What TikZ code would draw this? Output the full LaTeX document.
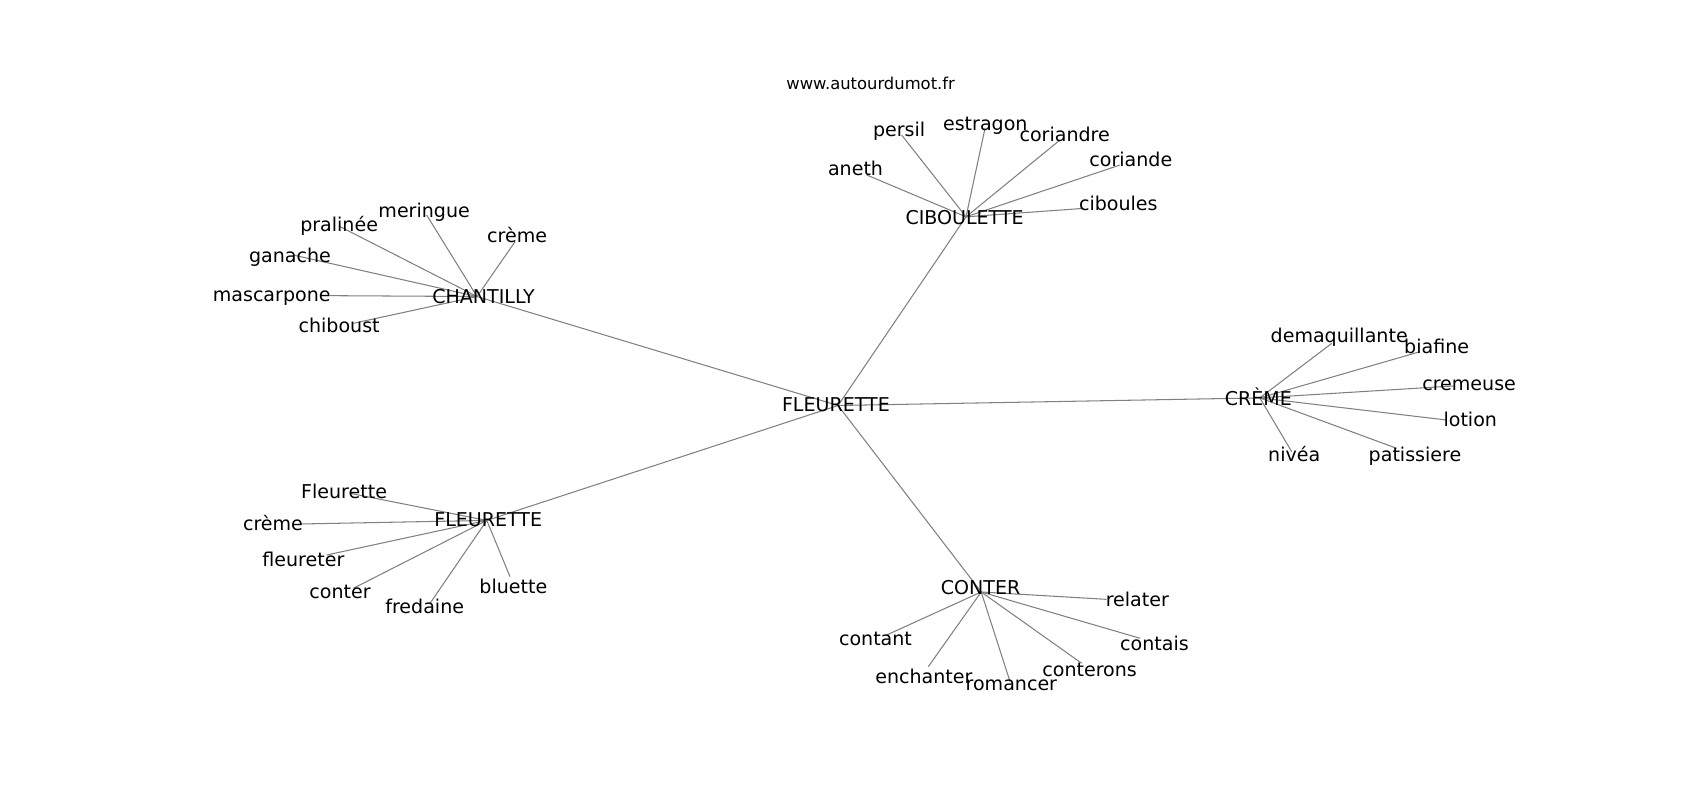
\documentclass[tikz,border=0pt]{standalone}
\usepackage{fontspec}
\setmainfont{DejaVu Sans}
\definecolor{edgegray}{RGB}{128,128,128}
\begin{document}
\begin{tikzpicture}[x=0.02cm,y=-0.02cm,
  lbl/.style={font=\fontsize{10}{12}\selectfont, inner sep=0pt, text height=0.73em, text depth=0pt, anchor=center},
  url/.style={font=\fontsize{8.6}{10}\selectfont, inner sep=0pt, text height=0.73em, text depth=0pt, anchor=center},
  edg/.style={draw=edgegray, line width=0.55pt}]
\useasboundingbox (0,0) rectangle (1568,738);
% graph node positions
\coordinate (F) at (773,374);
\coordinate (CH) at (440,273.5);
\coordinate (CI) at (891,200);
\coordinate (CR) at (1162,367);
\coordinate (FL) at (449,480);
\coordinate (CO) at (905,546);
\coordinate (ch1) at (393.5,198.3);
\coordinate (ch2) at (313.6,209);
\coordinate (ch3) at (475,223);
\coordinate (ch4) at (270.5,235.2);
\coordinate (ch5) at (304.4,272.7);
\coordinate (ch6) at (325.9,298.2);
\coordinate (ci1) at (831.6,124.5);
\coordinate (ci2) at (908.5,118.4);
\coordinate (ci3) at (977.7,129.1);
\coordinate (ci4) at (799.4,161.4);
\coordinate (ci5) at (1033,152.2);
\coordinate (ci6) at (999.2,192.2);
\coordinate (cr1) at (1228.3,316.7);
\coordinate (cr2) at (1309.7,324.4);
\coordinate (cr3) at (1340.5,356);
\coordinate (cr4) at (1334.3,387.4);
\coordinate (cr5) at (1191.4,416.6);
\coordinate (cr6) at (1288.2,413.5);
\coordinate (fl1) at (322.8,455);
\coordinate (fl2) at (276.7,483.3);
\coordinate (fl3) at (301.3,511.9);
\coordinate (fl4) at (325.9,542.6);
\coordinate (fl5) at (396.6,556.5);
\coordinate (fl6) at (470.4,531.9);
\coordinate (co1) at (1020.7,552.8);
\coordinate (co2) at (817.8,585.7);
\coordinate (co3) at (1051.5,588.7);
\coordinate (co4) at (997.7,611.8);
\coordinate (co5) at (856.2,614.9);
\coordinate (co6) at (931.6,628.7);
% edges
\draw[edg] (F) -- (CH);
\draw[edg] (F) -- (CI);
\draw[edg] (F) -- (CR);
\draw[edg] (F) -- (FL);
\draw[edg] (F) -- (CO);
\foreach \i in {1,...,6} {
  \draw[edg] (CH) -- (ch\i);
  \draw[edg] (CI) -- (ci\i);
  \draw[edg] (CR) -- (cr\i);
  \draw[edg] (FL) -- (fl\i);
  \draw[edg] (CO) -- (co\i);
}
% labels
\node[url] (tu) at (803,76) {www.autourdumot.fr};
\node[lbl] (tF) at (771,373) {FLEURETTE};
\node[lbl] (tCH) at (446,273.5) {CHANTILLY};
\node[lbl] (tCI) at (889.7,201) {CIBOULETTE};
\node[lbl] (tCR) at (1160.6,367.4) {CRÈME};
\node[lbl] (tFL) at (450.3,479.6) {FLEURETTE};
\node[lbl] (tCO) at (904.5,541.5) {CONTER};
\node[lbl] (tch1) at (391.2,194.3) {meringue};
\node[lbl] (tch2) at (312.8,207.5) {pralinée};
\node[lbl] (tch3) at (477,217) {crème};
\node[lbl] (tch4) at (267.5,235.8) {ganache};
\node[lbl] (tch5) at (250.6,272) {mascarpone};
\node[lbl] (tch6) at (312.8,300.7) {chiboust};
\node[lbl] (tci1) at (829.3,119.9) {persil};
\node[lbl] (tci2) at (908.8,113.8) {estragon};
\node[lbl] (tci3) at (982,124.5) {coriandre};
\node[lbl] (tci4) at (789.1,155.9) {aneth};
\node[lbl] (tci5) at (1043,147.6) {coriande};
\node[lbl] (tci6) at (1031.5,187.5) {ciboules};
\node[lbl] (tcr1) at (1235.2,309.9) {demaquillante};
\node[lbl] (tcr2) at (1325.1,319.7) {biafine};
\node[lbl] (tcr3) at (1355,354) {cremeuse};
\node[lbl] (tcr4) at (1356.1,387.4) {lotion};
\node[lbl] (tcr5) at (1193.7,419.7) {nivéa};
\node[lbl] (tcr6) at (1305.1,419.7) {patissiere};
\node[lbl] (tfl1) at (317.4,453.5) {Fleurette};
\node[lbl] (tfl2) at (251.8,482.7) {crème};
\node[lbl] (tfl3) at (279.8,515.9) {fleureter};
\node[lbl] (tfl4) at (313.6,545.7) {conter};
\node[lbl] (tfl5) at (391.7,559.6) {fredaine};
\node[lbl] (tfl6) at (473.5,541.1) {bluette};
\node[lbl] (tco1) at (1049,553) {relater};
\node[lbl] (tco2) at (807.5,588.8) {contant};
\node[lbl] (tco3) at (1064.8,593.4) {contais};
\node[lbl] (tco4) at (1005,617.4) {conterons};
\node[lbl] (tco5) at (852.1,624.1) {enchanter};
\node[lbl] (tco6) at (932.8,630.3) {romancer};
\end{tikzpicture}
\end{document}
